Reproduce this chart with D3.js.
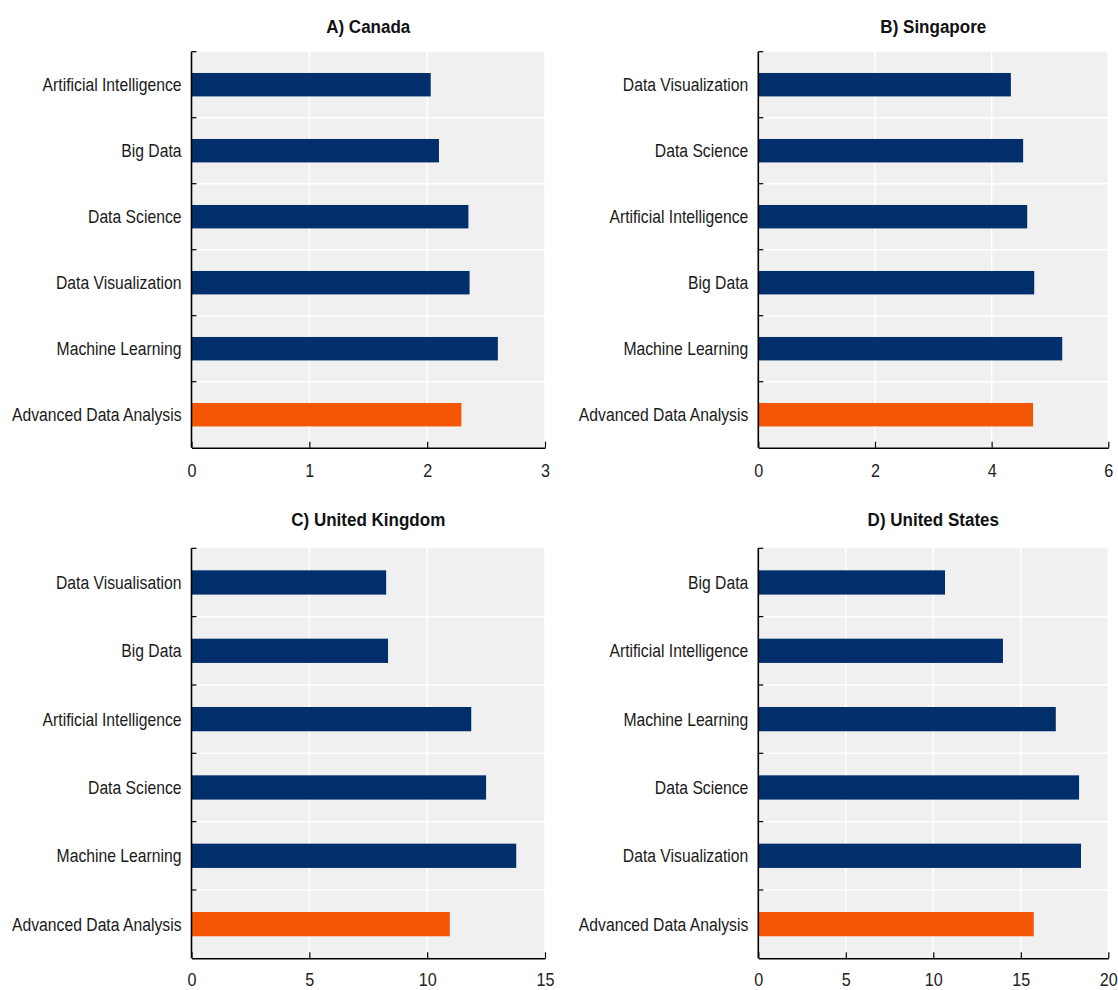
<!DOCTYPE html>
<html>
<head>
<meta charset="utf-8">
<script src="https://cdn.jsdelivr.net/npm/d3@7"></script>
<style>
  html, body { margin: 0; padding: 0; background: #fff; }
  svg { display: block; font-family: "Liberation Sans", Arial, sans-serif; }
</style>
</head>
<body>
<svg id="chart" width="1118" height="990"></svg>
<script>
// Category lists (top to bottom) and values for each country panel
const canadaSkills = ["Artificial Intelligence", "Big Data", "Data Science", "Data Visualization", "Machine Learning", "Advanced Data Analysis"];
const canadaValues = [2.03, 2.10, 2.35, 2.36, 2.60, 2.29];
const canadaTicks = [0, 1, 2, 3];

const singaporeSkills = ["Data Visualization", "Data Science", "Artificial Intelligence", "Big Data", "Machine Learning", "Advanced Data Analysis"];
const singaporeValues = [4.33, 4.54, 4.61, 4.73, 5.21, 4.71];
const singaporeTicks = [0, 2, 4, 6];

const ukSkills = ["Data Visualisation", "Big Data", "Artificial Intelligence", "Data Science", "Machine Learning", "Advanced Data Analysis"];
const ukValues = [8.26, 8.34, 11.87, 12.50, 13.78, 10.96];
const ukTicks = [0, 5, 10, 15];

const usSkills = ["Big Data", "Artificial Intelligence", "Machine Learning", "Data Science", "Data Visualization", "Advanced Data Analysis"];
const usValues = [10.67, 13.98, 17.00, 18.33, 18.44, 15.74];
const usTicks = [0, 5, 10, 15, 20];

const panelTitles = ["A) Canada", "B) Singapore", "C) United Kingdom", "D) United States"];
const highlightSkill = "Advanced Data Analysis";

const BLUE = "#002f6c";
const ORANGE = "#f45605";
const PLOT_BG = "#f0f0f0";
// condensed lettering: glyphs drawn taller, then narrowed horizontally
const LABEL_SIZE = 18.5, LABEL_SCALE = 0.85;
const TICK_SIZE = 19, TICK_SCALE = 0.85;
const TITLE_SIZE = 18.5, TITLE_SCALE = 0.92;

const svg = d3.select("#chart");

const panels = [
  { title: panelTitles[0], skills: canadaSkills, values: canadaValues, ticks: canadaTicks, x0: 191.5, x1: 545, y0: 51.7, y1: 447.7, titleY: 32.5, tickY: 29.7 },
  { title: panelTitles[1], skills: singaporeSkills, values: singaporeValues, ticks: singaporeTicks, x0: 758.3, x1: 1108.3, y0: 51.7, y1: 447.7, titleY: 32.5, tickY: 29.7 },
  { title: panelTitles[2], skills: ukSkills, values: ukValues, ticks: ukTicks, x0: 191.5, x1: 545, y0: 548.3, y1: 958.3, titleY: 525.7, tickY: 27.5 },
  { title: panelTitles[3], skills: usSkills, values: usValues, ticks: usTicks, x0: 758.3, x1: 1108.3, y0: 548.3, y1: 958.3, titleY: 525.7, tickY: 27.5 }
];

panels.forEach(p => {
  const g = svg.append("g");
  const domainMax = p.ticks[p.ticks.length - 1];
  const x = d3.scaleLinear().domain([0, domainMax]).range([p.x0, p.x1]);
  const y = d3.scaleBand().domain(p.skills).range([p.y0, p.y1]).paddingInner(0).paddingOuter(0);
  const band = y.bandwidth();
  const barH = band * 0.355;

  // plot background
  g.append("rect")
    .attr("x", p.x0).attr("y", p.y0)
    .attr("width", p.x1 - p.x0).attr("height", p.y1 - p.y0)
    .attr("fill", PLOT_BG);

  // vertical gridlines
  g.selectAll("line.vgrid").data(p.ticks.slice(1))
    .join("line").attr("class", "vgrid")
    .attr("x1", d => x(d)).attr("x2", d => x(d))
    .attr("y1", p.y0).attr("y2", p.y1)
    .attr("stroke", "#fff").attr("stroke-width", 1.5);

  // horizontal gridlines at category boundaries
  const boundaries = p.skills.slice(1).map(s => y(s));
  g.selectAll("line.hgrid").data(boundaries)
    .join("line").attr("class", "hgrid")
    .attr("x1", p.x0).attr("x2", p.x1)
    .attr("y1", d => d).attr("y2", d => d)
    .attr("stroke", "#fff").attr("stroke-width", 1.5);

  // bars
  g.selectAll("rect.bar").data(p.skills.map((s, i) => ({ skill: s, value: p.values[i] })))
    .join("rect").attr("class", "bar")
    .attr("x", x(0))
    .attr("y", d => y(d.skill) + (band - barH) / 2)
    .attr("width", d => x(d.value) - x(0))
    .attr("height", barH)
    .attr("fill", d => d.skill === highlightSkill ? ORANGE : BLUE);

  // x axis with inward ticks
  const xAxis = d3.axisBottom(x).tickValues(p.ticks).tickSizeInner(-6).tickSizeOuter(0)
    .tickFormat(d3.format("d"));
  const xg = g.append("g").attr("transform", `translate(0,${p.y1})`).call(xAxis);
  xg.select(".domain").attr("stroke", "#000").attr("stroke-width", 1.6);
  xg.selectAll(".tick line").attr("stroke", "#000").attr("stroke-width", 1.2);
  xg.selectAll(".tick text")
    .attr("fill", "#222")
    .attr("font-size", TICK_SIZE)
    .attr("y", p.tickY)
    .attr("dy", null)
    .attr("transform", `scale(${TICK_SCALE},1)`);

  // y axis: category boundary ticks pointing inward
  g.append("line")
    .attr("x1", p.x0).attr("x2", p.x0)
    .attr("y1", p.y0).attr("y2", p.y1)
    .attr("stroke", "#000").attr("stroke-width", 1.6);
  g.selectAll("line.ytick").data([p.y0].concat(boundaries))
    .join("line").attr("class", "ytick")
    .attr("x1", p.x0).attr("x2", p.x0 + 5)
    .attr("y1", d => d).attr("y2", d => d)
    .attr("stroke", "#000").attr("stroke-width", 1.2);

  // category labels
  g.selectAll("text.cat").data(p.skills)
    .join("text").attr("class", "cat")
    .attr("transform", d => `translate(${p.x0 - 10},${y(d) + band / 2}) scale(${LABEL_SCALE},1)`)
    .attr("dy", "0.36em")
    .attr("text-anchor", "end")
    .attr("font-size", LABEL_SIZE)
    .attr("fill", "#1a1a1a")
    .text(d => d);

  // panel title
  g.append("text")
    .attr("transform", `translate(${(p.x0 + p.x1) / 2},${p.titleY}) scale(${TITLE_SCALE},1)`)
    .attr("text-anchor", "middle")
    .attr("font-size", TITLE_SIZE)
    .attr("font-weight", "bold")
    .attr("fill", "#111")
    .text(p.title);
});
</script>
</body>
</html>
